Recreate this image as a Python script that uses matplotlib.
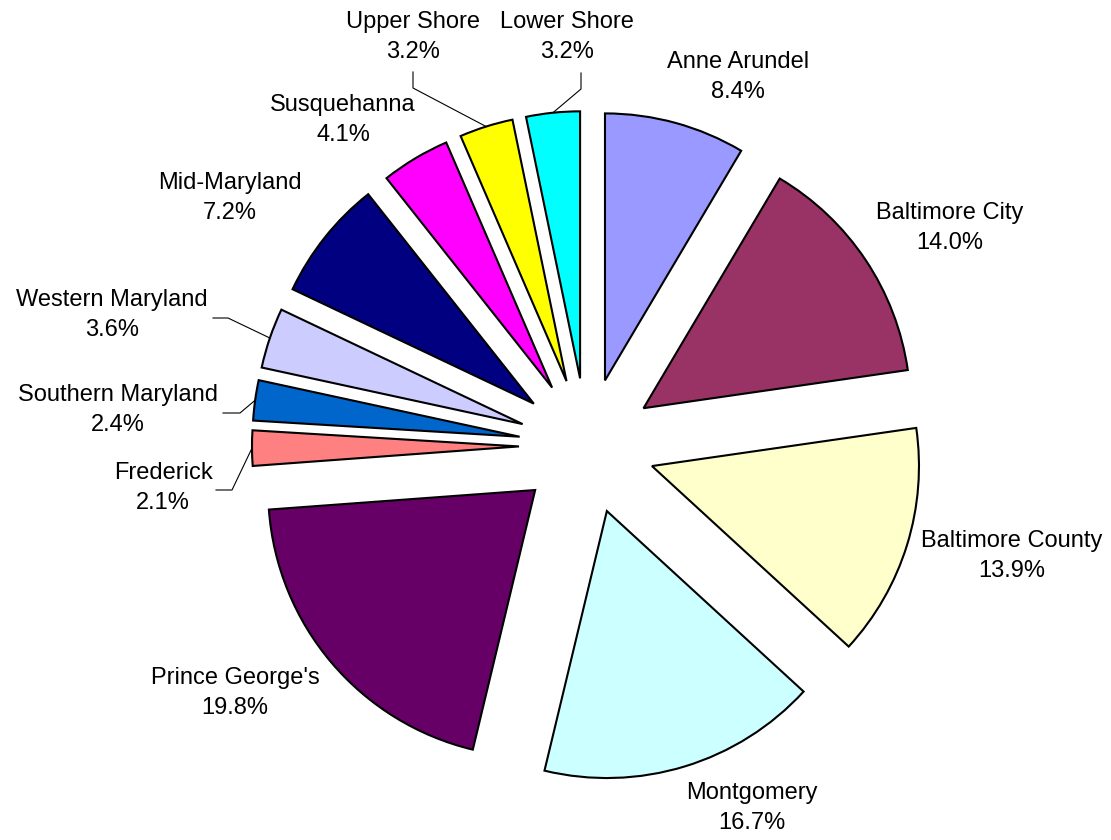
import numpy as np
import matplotlib
matplotlib.use("Agg")
import matplotlib.pyplot as plt

plt.rcParams['font.family'] = ['Liberation Sans', 'DejaVu Sans']

# Data
regions = ["Anne Arundel", "Baltimore City", "Baltimore County", "Montgomery",
           "Prince George's", "Frederick", "Southern Maryland", "Western Maryland",
           "Mid-Maryland", "Susquehanna", "Upper Shore", "Lower Shore"]
shares = [8.4, 14.0, 13.9, 16.7, 19.8, 2.1, 2.4, 3.6, 7.2, 4.1, 3.2, 3.2]
colors = ["#9999FF", "#993366", "#FFFFCC", "#CCFFFF", "#660066", "#FF8080",
          "#0066CC", "#CCCCFF", "#000080", "#FF00FF", "#FFFF00", "#00FFFF"]

# Layout (pixel units, y measured from top of image)
W, H = 1111, 840
cx, cy = 587, 446
R = 267
EXPL = 68
label_pos = [(738, 77), (950, 228), (1012, 556), (752, 808), (235, 693),
             (163, 488), (118, 410), (112, 315), (230, 198), (343, 120),
             (413, 37), (567, 37)]
# leader lines: start point and elbow (label side) for small slices
leaders = {5: [(216, 490), (232, 490)],
           6: [(223, 413), (240, 413)],
           7: [(213, 318), (228, 318)],
           10: [(413, 72), (413, 88)],
           11: [(581, 73), (581, 89)]}

fig = plt.figure(figsize=(W / 100, H / 100), dpi=100)
ax = fig.add_axes([0, 0, 1, 1])

wedges, _ = ax.pie(shares, colors=colors, startangle=90, counterclock=False,
                   radius=R, center=(cx, H - cy), explode=[EXPL] * len(shares),
                   wedgeprops=dict(edgecolor="black", linewidth=1.5))

ax.set_xlim(0, W)
ax.set_ylim(0, H)
ax.set_aspect("equal")
ax.axis("off")

for i, (name, val) in enumerate(zip(regions, shares)):
    x, y = label_pos[i]
    ax.text(x, H - y, f"{name}\n{val:.1f}%", ha="center", va="center",
            fontsize=17, linespacing=1.45, color="black")

# leader lines to the outer arc of each slice
total = sum(shares)
cum = np.cumsum([0] + shares)
for i, pts in leaders.items():
    mid = (cum[i] + shares[i] / 2) / total * 2 * np.pi
    ang = np.pi / 2 - mid
    ex = cx + (EXPL + R) * np.cos(ang)
    ey = (H - cy) + (EXPL + R) * np.sin(ang)
    xs = [p[0] for p in pts] + [ex]
    ys = [H - p[1] for p in pts] + [ey]
    ax.plot(xs, ys, color="black", linewidth=0.8)

fig.savefig("out.png", dpi=100)
